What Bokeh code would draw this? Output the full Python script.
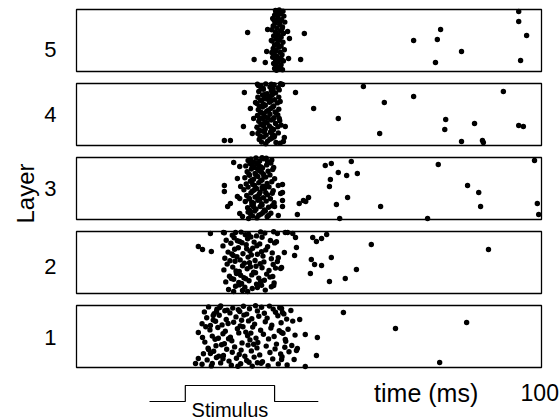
import math
from bokeh.plotting import figure
from bokeh.models import Range1d
from bokeh.embed import file_html
from bokeh.resources import INLINE
from bokeh.core.properties import value

# ---------------- data ----------------
layer_ids = [1, 2, 3, 4, 5]
layer_labels = ["1", "2", "3", "4", "5"]
time_end = 100            # ms, right end of the time axis
end_label = "100"
n_trials = 31             # trials 0..30 per layer

# stimulus trace (time in ms, level 0/1)
stim_time = [15.7, 23.4, 23.4, 42.6, 42.6, 52.0]
stim_level = [0, 0, 1, 1, 0, 0]

# spikes: (time ms, trial)
layer1_spikes = [
    (28.4, 29.8), (31.0, 30.3), (33.6, 29.2), (35.9, 30.1), (37.2, 28.9), (39.8, 29.6),
    (41.5, 30.2), (43.7, 29.4), (30.2, 28.6), (34.8, 28.4), (38.5, 30.4), (42.3, 28.7),
    (27.5, 27.3), (29.6, 26.4), (31.9, 27.9), (33.0, 26.8), (35.1, 27.5), (36.6, 26.2),
    (38.9, 27.8), (40.4, 26.6), (42.8, 27.1), (44.6, 26.3), (32.4, 28.2), (46.1, 28.0),
    (28.0, 24.4), (30.7, 25.6), (32.2, 23.5), (34.3, 24.8), (36.0, 25.7), (37.7, 23.9),
    (39.2, 25.1), (41.0, 24.2), (43.3, 25.4), (45.2, 23.7), (29.4, 23.2), (35.5, 23.1),
    (27.0, 21.4), (29.9, 22.6), (31.3, 20.8), (33.8, 22.1), (35.2, 20.3), (37.0, 22.8),
    (38.3, 21.2), (40.6, 22.4), (42.0, 20.6), (44.0, 21.9), (46.5, 22.7), (32.6, 21.5),
    (28.7, 18.3), (30.4, 19.5), (32.0, 17.6), (34.6, 18.9), (36.4, 17.2), (37.9, 19.7),
    (39.6, 18.1), (41.8, 19.2), (43.6, 17.9), (27.8, 19.9), (45.5, 18.6), (35.8, 19.9),
    (29.2, 15.2), (31.5, 16.4), (33.1, 14.6), (34.9, 16.8), (36.8, 15.4), (38.6, 14.2),
    (40.2, 16.1), (42.5, 15.0), (44.4, 16.6), (30.5, 14.1), (37.5, 16.7), (47.0, 15.7),
    (27.6, 12.2), (29.8, 13.6), (31.8, 11.4), (33.4, 12.9), (35.6, 11.8), (37.3, 13.3),
    (39.0, 12.0), (41.3, 13.8), (43.0, 11.2), (45.0, 12.6), (32.7, 13.9), (38.1, 11.1),
    (28.3, 9.1), (30.0, 10.4), (32.3, 8.6), (34.0, 9.8), (35.4, 8.2), (36.9, 10.7),
    (38.8, 9.3), (40.8, 10.2), (42.7, 8.8), (44.8, 9.6), (31.2, 10.9), (46.3, 10.5),
    (27.3, 6.4), (29.5, 7.6), (31.6, 5.5), (33.5, 7.1), (35.0, 6.0), (37.6, 7.8),
    (39.4, 5.8), (41.6, 7.0), (43.9, 6.3), (30.6, 5.2), (36.2, 5.1), (45.7, 7.4),
    (28.1, 3.3), (30.1, 4.5), (32.8, 2.7), (34.4, 4.1), (36.6, 3.0), (38.2, 4.7),
    (40.0, 2.4), (42.2, 3.8), (44.2, 4.9), (31.5, 3.9), (37.1, 2.1), (46.8, 3.5),
    (27.0, 1.1), (29.0, 0.3), (31.0, 1.8), (33.3, 0.6), (35.3, 1.4), (37.8, 0.2),
    (39.7, 1.6), (41.2, 0.4), (43.4, 1.3), (45.3, 0.8), (34.7, 0.1), (38.9, 1.9),
    (83.9, 22), (68.6, 19), (78.1, 2), (57.4, 27), (48.0, 23.5), (49.2, 16),
    (51.8, 14.5), (44.9, 13.5), (44.1, 17), (47.5, 9), (47.3, 8), (51.6, 5.5),
    (49.2, 0), (44.1, 3.5), (44.3, 27), (44.1, 29),
    (25.6, 1.5), (26.2, 4), (26.2, 17), (27.1, 14.5), (28.4, 8.5), (28.8, 6.5),
    (29.2, 1.5), (29.4, 25.5), (30.1, 27.5), (30.8, 29.5), (28.8, 20.5),
]

layer2_spikes = [
    (31.8, 29.9), (33.5, 28.6), (35.4, 30.2), (37.0, 29.1), (38.7, 28.3), (40.5, 29.7),
    (42.4, 30.4), (34.2, 30.0), (36.3, 28.9), (39.6, 30.3),
    (32.2, 26.1), (33.9, 27.4), (35.1, 25.5), (36.8, 26.9), (38.2, 25.2), (39.9, 27.6),
    (41.7, 26.0), (34.6, 25.9), (37.5, 27.8), (43.0, 25.4),
    (31.5, 23.3), (33.2, 24.6), (34.8, 22.4), (36.5, 23.9), (37.9, 22.1), (39.4, 24.3),
    (41.1, 22.9), (42.6, 24.8), (35.6, 24.9), (38.8, 23.4),
    (32.6, 20.2), (34.0, 21.6), (35.8, 19.4), (37.3, 20.8), (38.9, 19.1), (40.7, 21.3),
    (42.1, 19.8), (33.4, 19.3), (36.6, 21.9), (39.8, 20.4),
    (31.9, 17.1), (33.7, 18.5), (35.2, 16.3), (36.9, 17.7), (38.4, 16.0), (40.1, 18.2),
    (41.9, 16.9), (34.5, 17.9), (37.6, 18.8), (43.4, 17.4),
    (32.4, 14.2), (34.1, 15.6), (35.7, 13.4), (37.2, 14.9), (38.6, 13.1), (40.3, 15.3),
    (42.3, 14.0), (33.0, 15.9), (36.1, 14.6), (39.5, 14.4),
    (31.7, 11.3), (33.6, 12.7), (35.0, 10.5), (36.7, 11.9), (38.1, 10.2), (39.9, 12.4),
    (41.4, 11.0), (34.3, 10.8), (37.4, 12.9), (42.8, 12.2),
    (32.9, 8.1), (34.4, 9.5), (36.0, 7.4), (37.7, 8.8), (39.2, 7.2), (40.9, 9.2),
    (35.3, 8.6), (38.5, 9.9), (33.3, 7.0), (41.6, 7.7),
    (32.1, 5.3), (33.8, 6.6), (35.5, 4.5), (37.1, 5.9), (38.7, 4.2), (40.4, 6.1),
    (34.9, 5.0), (36.4, 6.9), (39.6, 5.5), (42.5, 4.8),
    (32.7, 1.5), (33.8, 0.5), (35.7, 1.0), (36.8, 0.5), (37.8, 2.0), (38.9, 2.5),
    (34.2, 3.1), (36.2, 2.6), (39.8, 3.6), (40.6, 1.2), (35.0, 3.8), (41.9, 2.9),
    (26.2, 23), (27.1, 21.5), (29.0, 20.5), (28.8, 29.5), (31.6, 30),
    (44.9, 30), (45.4, 30), (46.5, 29.5), (47.1, 27.5), (47.3, 22.5),
    (46.9, 18.5), (44.7, 20), (44.1, 12.5), (43.2, 29.5), (43.2, 15.5),
    (43.9, 12), (42.2, 8), (42.4, 3.5), (50.8, 27.5), (51.6, 25.5),
    (52.7, 27), (53.8, 29), (50.5, 16.5), (51.2, 14), (52.7, 13.5),
    (54.8, 17.5), (50.3, 9.5), (54.4, 5.5), (57.8, 7), (60.2, 11.5),
    (63.4, 24), (88.6, 21.5),
]

layer3_spikes = [
    (37.5, 29.6), (38.6, 30.3), (39.4, 28.8), (40.3, 29.9), (41.1, 28.4), (38.0, 28.2),
    (39.9, 30.4), (36.9, 29.0), (40.8, 30.1), (42.0, 29.3),
    (36.4, 26.3), (37.3, 27.5), (38.2, 25.6), (39.1, 27.0), (40.0, 25.3), (40.9, 26.8),
    (41.8, 27.7), (37.8, 26.1), (39.6, 25.9), (42.4, 25.5), (38.6, 27.9),
    (36.7, 23.4), (37.6, 24.7), (38.4, 22.5), (39.3, 24.0), (40.2, 22.2), (41.2, 23.6),
    (42.2, 24.5), (37.1, 22.1), (39.8, 23.1), (38.9, 24.9),
    (36.2, 20.4), (37.2, 21.6), (38.1, 19.6), (39.0, 21.0), (39.9, 19.3), (40.7, 20.7),
    (41.6, 21.8), (42.6, 19.9), (37.7, 19.2), (38.6, 21.9), (40.3, 21.2),
    (36.5, 17.3), (37.4, 18.6), (38.3, 16.5), (39.2, 17.9), (40.1, 16.2), (41.0, 17.5),
    (42.0, 18.4), (37.9, 17.0), (39.6, 18.9), (40.6, 16.0),
    (36.0, 14.4), (36.9, 15.7), (37.8, 13.6), (38.7, 15.0), (39.5, 13.3), (40.4, 14.7),
    (41.4, 15.8), (42.3, 13.9), (38.2, 14.2), (39.9, 15.4),
    (36.6, 11.5), (37.5, 12.8), (38.4, 10.7), (39.3, 12.1), (40.2, 10.4), (41.1, 11.8),
    (42.1, 12.6), (37.1, 10.2), (38.9, 11.2), (40.7, 12.9),
    (36.3, 8.5), (37.2, 9.8), (38.1, 7.7), (39.0, 9.1), (39.8, 7.4), (40.8, 8.7),
    (41.7, 9.9), (37.7, 8.1), (39.4, 9.6), (42.5, 7.9),
    (36.8, 5.4), (37.7, 6.7), (38.6, 4.6), (39.5, 6.0), (40.4, 4.3), (41.3, 5.6),
    (38.1, 5.9), (39.9, 6.8), (37.2, 4.1), (42.1, 6.4),
    (37.4, 2.4), (38.3, 3.7), (39.2, 1.6), (40.1, 3.0), (41.0, 0.9), (38.8, 0.3),
    (37.9, 1.2), (39.7, 2.2), (40.6, 3.8), (36.9, 3.2), (41.8, 2.6),
    (31.8, 16.5), (31.8, 13.5), (33.8, 28), (35.1, 26), (34.6, 20), (35.3, 16),
    (34.6, 11), (35.1, 10), (32.5, 6), (33.1, 7.5), (35.1, 2.5), (35.7, 1),
    (37.0, 0), (43.4, 16.5), (43.9, 12.5), (44.3, 9), (42.6, 6), (43.4, 1.5),
    (41.3, 1.5), (47.5, 2), (47.9, 7.5), (48.8, 9), (49.3, 8.5), (49.9, 10.5),
    (98.5, 29), (99.1, 7.5), (77.8, 27), (84.1, 16.5), (86.5, 13), (86.9, 6),
    (65.4, 6), (59.1, 28.5), (54.8, 27.5), (53.5, 26.5), (56.3, 23), (58.1, 21.5),
    (60.4, 22.5), (54.6, 19.5), (54.4, 16), (58.3, 10.5), (55.9, 7), (44.3, 17),
    (44.3, 13), (44.3, 6), (56.6, 0), (75.5, 0), (99.4, 2),
]

layer4_spikes = [
    (39.6, 29.4), (40.7, 30.3), (41.6, 28.7), (42.5, 29.9), (43.4, 28.4), (40.1, 28.2),
    (41.9, 30.1), (38.9, 30.2), (43.9, 30.4),
    (39.2, 26.5), (40.2, 27.6), (41.0, 25.4), (41.9, 26.9), (42.8, 25.8), (43.6, 27.3),
    (40.6, 25.1), (39.7, 27.9), (42.3, 27.8),
    (39.0, 23.6), (40.0, 24.8), (40.9, 22.7), (41.7, 24.1), (42.6, 22.4), (43.5, 23.7),
    (39.6, 22.1), (41.3, 23.3), (42.1, 24.9), (40.4, 23.0),
    (38.8, 20.5), (39.8, 21.7), (40.6, 19.6), (41.5, 21.1), (42.4, 19.3), (43.2, 20.8),
    (40.2, 20.2), (41.9, 21.9), (39.3, 19.2), (43.8, 21.5),
    (39.1, 17.4), (40.0, 18.7), (40.9, 16.6), (41.8, 18.0), (42.7, 16.3), (43.5, 17.6),
    (39.6, 16.1), (41.3, 17.1), (42.2, 18.8),
    (38.9, 14.5), (39.9, 15.8), (40.7, 13.7), (41.6, 15.1), (42.5, 13.4), (43.3, 14.8),
    (40.3, 14.9), (41.2, 13.1), (42.9, 15.9), (39.4, 13.3),
    (39.2, 11.6), (40.1, 12.9), (41.0, 10.8), (41.9, 12.2), (42.8, 10.5), (43.7, 11.9),
    (40.5, 11.3), (42.3, 12.7), (39.7, 10.2),
    (38.8, 8.6), (39.7, 9.9), (40.6, 7.8), (41.5, 9.2), (42.4, 7.5), (43.3, 8.9),
    (40.2, 9.4), (41.9, 8.2), (39.3, 7.1), (44.0, 9.7),
    (39.0, 5.5), (39.9, 6.8), (40.8, 4.7), (41.7, 6.1), (42.6, 4.4), (43.4, 5.8),
    (40.4, 6.4), (42.1, 5.2), (39.5, 4.1),
    (39.3, 2.5), (40.2, 3.8), (41.1, 1.7), (42.0, 3.1), (42.9, 1.0), (40.7, 0.4),
    (41.6, 2.6), (43.8, 0.6), (39.8, 1.2), (42.5, 3.7),
    (31.8, 2), (33.1, 2), (35.9, 9), (36.1, 26), (37.4, 18), (37.8, 5.5),
    (38.1, 13), (38.5, 21), (39.1, 29.5), (44.3, 30), (44.5, 1.5), (44.9, 9),
    (44.7, 3.5), (43.6, 13), (47.1, 26), (51.0, 18), (56.3, 13), (61.7, 29),
    (65.2, 5.5), (66.2, 21), (72.5, 24), (79.4, 12.5), (79.2, 7.5), (82.8, 1.5),
    (85.6, 10.5), (87.3, 2), (87.5, 1), (91.8, 26.5), (95.1, 9.5), (96.1, 9),
]

layer5_spikes = [
    (43.6, 30.3), (44.4, 29.6), (42.9, 29.1), (43.9, 28.4), (42.6, 27.7), (44.6, 27.2),
    (43.3, 26.6), (42.2, 26.0), (44.1, 25.4), (43.0, 24.8), (44.8, 24.2), (42.7, 23.6),
    (43.7, 23.0), (42.3, 22.3), (44.3, 21.8), (43.1, 21.1), (42.0, 20.4), (43.9, 19.8),
    (42.8, 19.2), (44.5, 18.5), (43.4, 17.9), (42.4, 17.3), (44.0, 16.6), (42.9, 16.0),
    (43.6, 15.3), (42.1, 14.7), (44.4, 14.1), (43.2, 13.5), (42.6, 12.8), (44.0, 12.2),
    (43.5, 11.6), (42.3, 11.0), (44.7, 10.4), (42.9, 9.7), (43.8, 9.1), (42.5, 8.5),
    (44.2, 7.9), (43.1, 7.2), (42.2, 6.6), (43.7, 6.0), (42.8, 5.4), (44.5, 4.8),
    (43.3, 4.1), (42.4, 3.5), (44.0, 2.9), (42.9, 2.3), (43.6, 1.6), (42.6, 1.0),
    (44.3, 0.4), (43.0, 0.1), (43.4, 28.9), (42.5, 25.1), (44.2, 20.9), (43.0, 15.7),
    (42.7, 10.1), (44.1, 5.5), (43.8, 24.5), (42.0, 9.0), (43.9, 0.8), (42.8, 30.0),
    (36.8, 19), (38.2, 5.5), (40.6, 4), (40.9, 9.5), (41.1, 20.5), (41.9, 15),
    (45.4, 19.5), (45.8, 16), (45.6, 6), (48.2, 5.5), (49.0, 18.5),
    (72.5, 15), (77.2, 4), (77.6, 15.5), (78.3, 20.5), (82.8, 9.5),
    (95.1, 29.5), (95.1, 24.5), (96.8, 17.5), (95.5, 5),
]

all_spikes = [layer1_spikes, layer2_spikes, layer3_spikes, layer4_spikes, layer5_spikes]

# ---------------- layout ----------------
W, H = 560, 420
pitch = 37                      # vertical distance between layer panels (trial units)
FONT = value("Liberation Sans")

p = figure(width=W, height=H, output_backend="svg", toolbar_location=None,
           x_range=Range1d(-16.344, 104.086), y_range=Range1d(-27, 183),
           x_axis_location=None, y_axis_location=None,
           min_border=0, min_border_left=0, min_border_right=0,
           min_border_top=0, min_border_bottom=0)
p.outline_line_color = None
p.xgrid.visible = False
p.ygrid.visible = False
p.background_fill_color = "white"
p.border_fill_color = "white"

label_shift = [0.5, 2.0, 0.0, 0.0, 4.5]

for layer, spikes, lab, shift in zip(layer_ids, all_spikes, layer_labels, label_shift):
    off = (layer - 1) * pitch
    xs = [t for t, r in spikes]
    ys = [off + r for t, r in spikes]
    p.quad(left=[0], right=[time_end], bottom=[off - 0.5], top=[off + n_trials - 0.5],
           fill_color=None, line_color="black", line_width=1.3)
    p.scatter(x=xs, y=ys, size=5.4, marker="circle", fill_color="black", line_color=None)
    p.text(x=[-5.6], y=[off + (n_trials - 1) / 2 - shift], text=[lab], text_font=FONT,
           text_font_size="22px", text_align="center", text_baseline="middle", text_color="black")

# y label
p.text(x=[-10.97], y=[86.5], text=["Layer"], angle=math.pi / 2, text_font=FONT,
       text_font_size="24px", text_align="center", text_baseline="alphabetic", text_color="black")

# stimulus trace
stim_base, stim_h = -17.5, 8
p.line(x=stim_time, y=[stim_base + s * stim_h for s in stim_level], line_color="black", line_width=1.2)
p.text(x=[(stim_time[1] + stim_time[3]) / 2], y=[-21.6], text=["Stimulus"], text_font=FONT,
       text_font_size="20px", text_align="center", text_baseline="middle", text_color="black")

# time axis annotation
p.text(x=[75.2], y=[-13], text=["time (ms)"], text_font=FONT, text_font_size="25px",
       text_align="center", text_baseline="middle", text_color="black")
p.text(x=[95.5], y=[-13], text=[end_label], text_font=FONT, text_font_size="23px",
       text_align="left", text_baseline="middle", text_color="black")

open("out.html", "w").write(file_html(p, INLINE))
